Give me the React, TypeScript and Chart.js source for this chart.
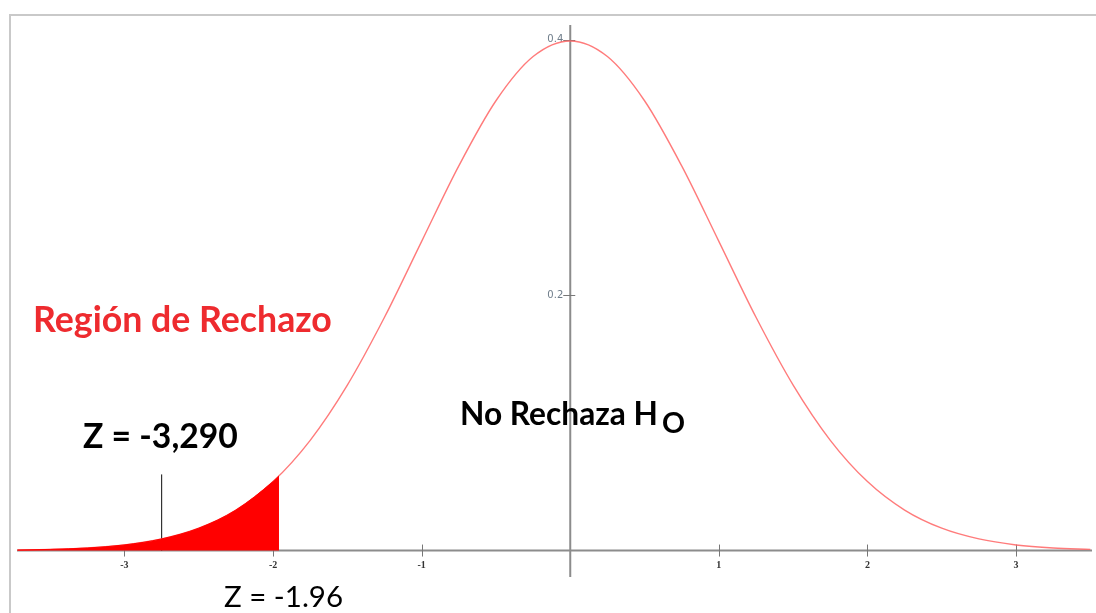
import React, { useEffect, useRef } from "react";
import { Chart, registerables } from "chart.js";

Chart.register(...registerables);

// Standard normal curve
const curveX = [-3.72, -3.5, -3.25, -3.0, -2.75, -2.5, -2.25, -2.0, -1.75, -1.5, -1.25, -1.0, -0.75, -0.5, -0.25, 0, 0.25, 0.5, 0.75, 1.0, 1.25, 1.5, 1.75, 2.0, 2.25, 2.5, 2.75, 3.0, 3.25, 3.5];
const curveY = [0.0004, 0.0009, 0.002, 0.0044, 0.0091, 0.0175, 0.0317, 0.054, 0.0863, 0.1295, 0.1826, 0.242, 0.3011, 0.3521, 0.3867, 0.3989, 0.3867, 0.3521, 0.3011, 0.242, 0.1826, 0.1295, 0.0863, 0.054, 0.0317, 0.0175, 0.0091, 0.0044, 0.002, 0.0009];

// Shaded rejection region (left tail up to z = -1.96)
const tailX = [-3.72, -3.5, -3.25, -3.0, -2.75, -2.5, -2.25, -2.0, -1.96];
const tailY = [0.0004, 0.0009, 0.002, 0.0044, 0.0091, 0.0175, 0.0317, 0.054, 0.0584];

// Black marker line
const markerX = [-2.75, -2.75];
const markerY = [0, 0.0596];

// Axis ticks
const xTicks = [-3, -2, -1, 1, 2, 3];
const xTickLabels = ["-3", "-2", "-1", "1", "2", "3"];
const yTicks = [0.2, 0.4];
const yTickLabels = ["0.2", "0.4"];

// Annotation texts
const rejectLabel = "Región de Rechazo";
const zCritLabel = "Z = -3,290";
const noRejectLabel = "No Rechaza H";
const noRejectSub = "O";
const zLabel = "Z = -1.96";

const FAMILY = 'Lato, "Open Sans", sans-serif';

function fitText(ctx: CanvasRenderingContext2D, text: string, x: number, y: number, w: number, weight: string, color: string) {
  ctx.font = `${weight} 100px ${FAMILY}`;
  const m = ctx.measureText(text).width;
  const size = (100 * w) / m;
  ctx.font = `${weight} ${size}px ${FAMILY}`;
  ctx.fillStyle = color;
  ctx.textAlign = "left";
  ctx.textBaseline = "alphabetic";
  ctx.fillText(text, x, y);
  return size;
}

const axesPlugin = {
  id: "customAxes",
  beforeDraw(chart: any) {
    const ctx = chart.ctx as CanvasRenderingContext2D;
    ctx.save();
    ctx.fillStyle = "#ffffff";
    ctx.fillRect(0, 0, chart.width, chart.height);
    ctx.strokeStyle = "#c9c9c9";
    ctx.lineWidth = 2;
    ctx.beginPath();
    ctx.moveTo(10, chart.height);
    ctx.lineTo(10, 15);
    ctx.lineTo(chart.width, 15);
    ctx.stroke();
    ctx.restore();
  },
  beforeDatasetsDraw(chart: any) {
    const ctx = chart.ctx as CanvasRenderingContext2D;
    const xs = chart.scales.x;
    const ys = chart.scales.y;
    const area = chart.chartArea;
    const y0 = ys.getPixelForValue(0);
    const x0 = xs.getPixelForValue(0);
    ctx.save();
    ctx.strokeStyle = "#8c8c8c";
    ctx.lineWidth = 2;
    ctx.beginPath();
    ctx.moveTo(area.left, y0);
    ctx.lineTo(area.right, y0);
    ctx.moveTo(x0, area.top);
    ctx.lineTo(x0, area.bottom);
    ctx.stroke();
    ctx.lineWidth = 1;
    ctx.strokeStyle = "#777";
    ctx.beginPath();
    xTicks.forEach((t) => {
      const px = Math.round(xs.getPixelForValue(t)) + 0.5;
      ctx.moveTo(px, y0 - 6);
      ctx.lineTo(px, y0 + 6);
    });
    yTicks.forEach((t) => {
      const py = Math.round(ys.getPixelForValue(t)) + 0.5;
      ctx.moveTo(x0 - 7, py);
      ctx.lineTo(x0 + 5, py);
    });
    ctx.stroke();
    ctx.font = 'bold 10px "Liberation Serif", serif';
    ctx.fillStyle = "#333";
    ctx.textAlign = "center";
    ctx.textBaseline = "middle";
    xTicks.forEach((t, i) => {
      ctx.fillText(xTickLabels[i], xs.getPixelForValue(t), y0 + 15);
    });
    ctx.font = '10px "DejaVu Sans", sans-serif';
    ctx.fillStyle = "#6f7d8a";
    ctx.textAlign = "right";
    yTicks.forEach((t, i) => {
      ctx.fillText(yTickLabels[i], x0 - 7, ys.getPixelForValue(t));
    });
    ctx.restore();
  },
  afterDraw(chart: any) {
    const ctx = chart.ctx as CanvasRenderingContext2D;
    ctx.save();
    fitText(ctx, rejectLabel, 33, 332, 299, "bold", "#ee2b2f");
    fitText(ctx, zCritLabel, 83, 448, 155, "bold", "#000");
    const s = fitText(ctx, noRejectLabel, 460, 425, 198, "bold", "#000");
    ctx.font = `bold ${s * 0.9}px ${FAMILY}`;
    ctx.fillText(noRejectSub, 662, 433);
    fitText(ctx, zLabel, 224, 607, 119, "normal", "#000");
    ctx.restore();
  },
};

export default function App() {
  const ref = useRef<HTMLCanvasElement | null>(null);
  useEffect(() => {
    if (!ref.current) return;
    const toPts = (xa: number[], ya: number[]) => xa.map((x, i) => ({ x, y: ya[i] }));
    const chart = new Chart(ref.current, {
      type: "line",
      data: {
        datasets: [
          {
            data: toPts(tailX, tailY),
            borderColor: "#ff0000",
            borderWidth: 1,
            backgroundColor: "#ff0000",
            fill: "origin",
            pointRadius: 0,
            cubicInterpolationMode: "monotone",
          },
          {
            data: toPts(curveX, curveY),
            borderColor: "rgba(255,100,100,0.85)",
            borderWidth: 1.4,
            fill: false,
            pointRadius: 0,
            cubicInterpolationMode: "monotone",
          },
          {
            data: toPts(markerX, markerY),
            borderColor: "#333",
            borderWidth: 1.2,
            fill: false,
            pointRadius: 0,
          },
        ],
      },
      options: {
        animation: false,
        responsive: false,
        events: [],
        layout: { padding: { left: 17, right: 4, top: 25, bottom: 36 } },
        plugins: { legend: { display: false }, tooltip: { enabled: false } },
        scales: {
          x: { type: "linear", min: -3.723, max: 3.511, display: false },
          y: { type: "linear", min: -0.0207, max: 0.4114, display: false },
        },
      },
      plugins: [axesPlugin],
    } as any);
    return () => chart.destroy();
  }, []);
  return (
    <div style={{ position: "fixed", left: 0, top: 0, width: 1096, height: 613, background: "#fff" }}>
      <canvas ref={ref} width={1096} height={613} />
    </div>
  );
}
